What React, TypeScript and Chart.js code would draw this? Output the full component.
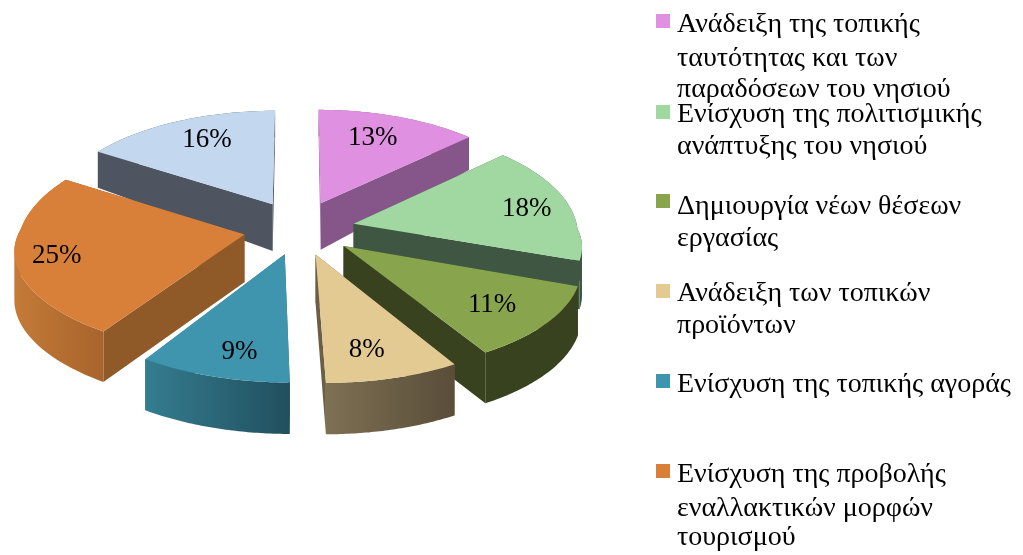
import { useEffect, useRef } from "react";
import { Chart, registerables } from "chart.js";

Chart.register(...registerables);

const categories: string[][] = [
  ["Ανάδειξη της τοπικής", "ταυτότητας και των", "παραδόσεων του νησιού"],
  ["Ενίσχυση της πολιτισμικής", "ανάπτυξης του νησιού"],
  ["Δημιουργία νέων θέσεων", "εργασίας"],
  ["Ανάδειξη των τοπικών", "προϊόντων"],
  ["Ενίσχυση της τοπικής αγοράς"],
  ["Ενίσχυση της προβολής", "εναλλακτικών μορφών", "τουρισμού"],
  [""],
];
const shares = [13, 18, 11, 8, 9, 25, 16];

const topColors = ["#e090e0", "#a1d8a1", "#88a54e", "#e3c992", "#3f94ae", "#d87f3a", "#c3d7ee"];
const wallColors = ["#86568a", "#3f5742", "#38421e", "#6b5e45", "#2f6f80", "#905a28", "#4e5560"];
const rimLeftColors = ["#86568a", "#3f5742", "#38421e", "#7d7053", "#347d90", "#c47a38", "#4e5560"];
const rimRightColors = ["#86568a", "#3f5742", "#38421e", "#5a4d39", "#214f5e", "#a8642c", "#4e5560"];
const labelFractions = [0.78, 0.8, 0.8, 0.72, 0.72, 0.86, 0.78];
const labelNudges = [[-10, 3], [1, 1], [-11, -1], [-3, 11], [4, 14], [9, 3], [10, 2]];
const legendSwatchTops = [14, 105, 194, 284, 374, 464];
const legendBaselines = [[32, 66, 97], [122, 154], [214, 246], [301, 333], [392], [482, 516, 545]];

const FONT = '"Liberation Serif", "Times New Roman", serif';

// Perspective projection of the flat pie plane onto the picture.
function project(cx: number, cy: number, u: number, v: number): [number, number] {
  const sx = 1 + (v > 0 ? 0.0008 : 0.0004) * v;
  const shear = v > 0 ? v * 0.035 : 0;
  const f = v > 0 ? 0.41 * v + 0.00048 * v * v : 0.48 * v + 0.00019 * v * v;
  return [cx + u * sx + shear, cy + f];
}
function depth(v: number): number {
  return v < -50 ? 47 + (v + 50) * 0.09 : 47 + (v + 50) * 0.0133;
}

const pie3d = {
  id: "pie3d",
  beforeDatasetsDraw(chart: any) {
    const ctx: CanvasRenderingContext2D = chart.ctx;
    const arcs: any[] = chart.getDatasetMeta(0).data;
    const items = arcs.map((arc, i) => {
      const start = arc.startAngle as number;
      const end = arc.endAngle as number;
      const mid = (start + end) / 2;
      const off = arc.options.offset as number;
      const ox = Math.cos(mid) * off * 0.93;
      const oy = Math.sin(mid) * off;
      const R = arc.outerRadius as number;
      const edge: [number, number][] = [];
      const N = 48;
      for (let k = 0; k <= N; k++) {
        const a = start + ((end - start) * k) / N;
        edge.push([ox + Math.cos(a) * R, oy + Math.sin(a) * R]);
      }
      return { arc, i, ox, oy, R, mid, edge };
    });
    items.sort((a, b) => a.oy - b.oy);
    for (const it of items) {
      const { arc, i, ox, oy, edge } = it;
      const cx = arc.x as number;
      const cy = arc.y as number;
      const top = (p: [number, number]) => project(cx, cy, p[0], p[1]);
      const bot = (p: [number, number]) => {
        const q = project(cx, cy, p[0], p[1]);
        return [q[0], q[1] + depth(p[1])] as [number, number];
      };
      const apex: [number, number] = [ox, oy];
      const addPoly = (pts: [number, number][]) => {
        let area = 0;
        pts.forEach((p, k) => {
          const q = pts[(k + 1) % pts.length];
          area += p[0] * q[1] - q[0] * p[1];
        });
        const list = area < 0 ? pts.slice().reverse() : pts;
        list.forEach((p, k) => (k ? ctx.lineTo(p[0], p[1]) : ctx.moveTo(p[0], p[1])));
        ctx.closePath();
      };
      const fillPoly = (pts: [number, number][], fill: string | CanvasGradient) => {
        ctx.beginPath();
        addPoly(pts);
        ctx.fillStyle = fill;
        ctx.fill();
      };
      fillPoly([top(apex), top(edge[0]), bot(edge[0]), bot(apex)], wallColors[i]);
      fillPoly([top(apex), top(edge[edge.length - 1]), bot(edge[edge.length - 1]), bot(apex)], wallColors[i]);
      const topEdge = edge.map(top);
      const botEdge = edge.map(bot);
      const xs = [...topEdge, ...botEdge].map((p) => p[0]);
      const g = ctx.createLinearGradient(Math.min(...xs), 0, Math.max(...xs), 0);
      g.addColorStop(0, rimLeftColors[i]);
      g.addColorStop(1, rimRightColors[i]);
      ctx.beginPath();
      for (let k = 0; k < edge.length - 1; k++) {
        addPoly([topEdge[k], topEdge[k + 1], botEdge[k + 1], botEdge[k]]);
      }
      ctx.fillStyle = g;
      ctx.fill();
      fillPoly([top(apex), ...topEdge], arc.options.backgroundColor);
    }
    ctx.fillStyle = "#000";
    ctx.font = `27px ${FONT}`;
    ctx.textAlign = "center";
    ctx.textBaseline = "middle";
    for (const it of items) {
      const t = labelFractions[it.i] * it.R;
      const [x, y] = project(it.arc.x, it.arc.y, it.ox + Math.cos(it.mid) * t, it.oy + Math.sin(it.mid) * t);
      const [nx, ny] = labelNudges[it.i];
      ctx.fillText(`${shares[it.i]}%`, x + nx, y + ny);
    }
    return false;
  },
  afterDraw(chart: any) {
    const ctx: CanvasRenderingContext2D = chart.ctx;
    ctx.save();
    ctx.font = `28px ${FONT}`;
    ctx.textAlign = "left";
    ctx.textBaseline = "alphabetic";
    legendSwatchTops.forEach((y, i) => {
      ctx.fillStyle = topColors[i];
      ctx.fillRect(656, y, 14, 14);
      ctx.fillStyle = "#000";
      categories[i].forEach((line, k) => ctx.fillText(line, 677, legendBaselines[i][k]));
    });
    ctx.restore();
  },
};

export default function App() {
  const ref = useRef<HTMLCanvasElement>(null);
  useEffect(() => {
    const chart = new Chart(ref.current!, {
      type: "pie",
      data: {
        labels: categories.map((c) => c.join(" ")),
        datasets: [{ data: shares, backgroundColor: topColors, borderWidth: 0, offset: 60 } as any],
      },
      options: {
        animation: false,
        responsive: false,
        radius: 224,
        layout: { padding: { right: 425, bottom: 97 } },
        plugins: { legend: { display: false }, tooltip: { enabled: false } },
        events: [],
      } as any,
      plugins: [pie3d],
    });
    return () => chart.destroy();
  }, []);
  return (
    <canvas
      ref={ref}
      width={1023}
      height={555}
      style={{ position: "absolute", left: 0, top: 0, display: "block" }}
    />
  );
}
